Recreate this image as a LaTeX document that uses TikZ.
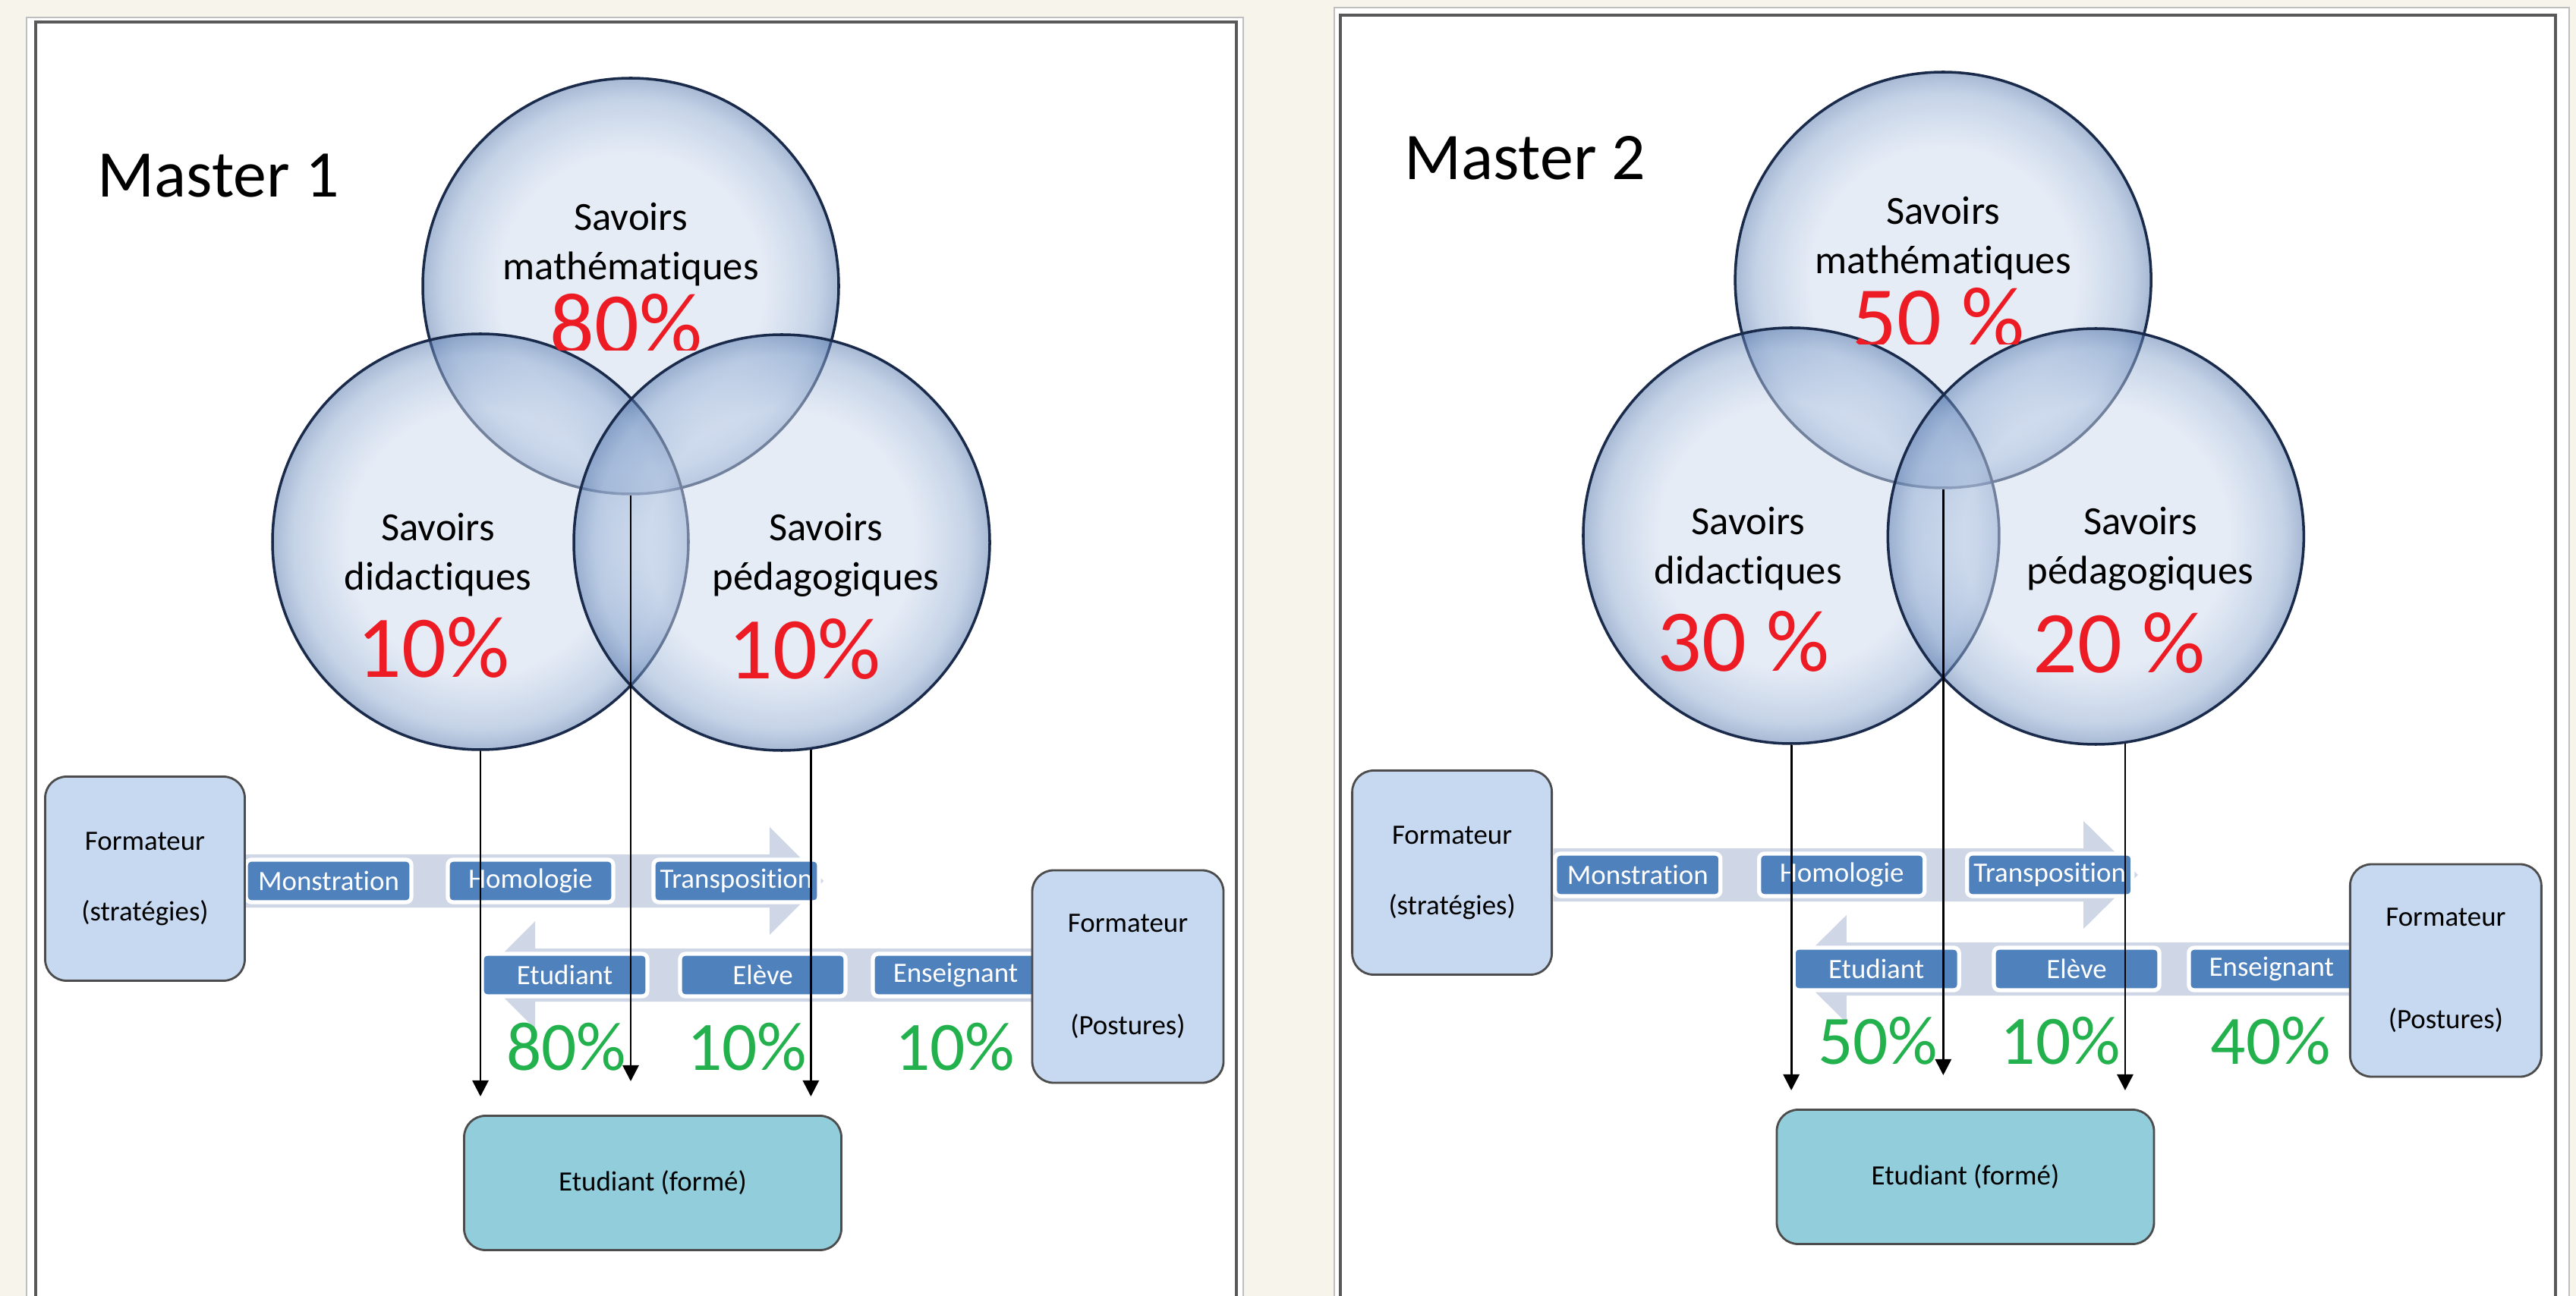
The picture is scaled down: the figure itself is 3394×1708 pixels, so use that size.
\documentclass[tikz,border=0pt]{standalone}
\usepackage{fontspec}
\setmainfont{Carlito}[Ligatures=NoCommon]
\usetikzlibrary{arrows.meta}

\definecolor{cream}{RGB}{247,244,235}
\definecolor{bubin}{RGB}{205,218,238}
\definecolor{bubmid}{RGB}{140,168,208}
\definecolor{bubout}{RGB}{80,115,170}
\definecolor{bubline}{RGB}{25,42,75}
\definecolor{stageblue}{RGB}{79,129,189}
\definecolor{bandgray}{RGB}{207,215,231}
\definecolor{rolefill}{RGB}{198,217,241}
\definecolor{studfill}{RGB}{146,205,220}
\definecolor{pcred}{RGB}{237,28,36}
\definecolor{pcgreen}{RGB}{34,177,76}
\pgfdeclareradialshading{bubble}{\pgfpoint{0bp}{0bp}}{color(0bp)=(bubin); color(16bp)=(bubin); color(22.5bp)=(bubmid); color(25bp)=(bubout); color(50bp)=(bubout)}

\begin{document}
\begin{tikzpicture}[x=0.1mm, y=-0.1mm,
  venn/.style={circle, minimum size=54.8mm, inner sep=0pt, shading=bubble, fill opacity=0.5, draw=bubline, line width=1pt},
  lab/.style={align=center, font=\fontsize{15}{18.5}\selectfont},
  redpc/.style={text=pcred, font=\fontsize{33}{36}\selectfont, inner sep=0pt},
  greenpc/.style={text=pcgreen, font=\fontsize{26}{30}\selectfont, inner sep=0pt},
  title/.style={font=\fontsize{25}{30}\selectfont, inner sep=0pt},
  stage/.style={draw=white, line width=1.5pt, fill=stageblue, rounded corners=2pt, text=white, font=\fontsize{10.5}{12}\selectfont, minimum width=21.8mm, minimum height=5.6mm, inner sep=0pt},
  role/.style={draw=black!70, line width=0.8pt, fill=rolefill, rounded corners=8pt, align=center, font=\fontsize{10.5}{12.5}\selectfont, inner sep=0pt},
  band/.style={fill=bandgray},
  arr/.style={-{Triangle[length=6pt,width=6pt]}, line width=0.8pt},
  framein/.style={draw=black!65, line width=1.2pt},
  frameout/.style={draw=black!25, line width=0.6pt}
]
\useasboundingbox (0,0) rectangle (3394,1708);
\fill[cream] (0,0) rectangle (3394,1708);

% the two sheets
\fill[white] (35,23) rectangle (1638,1708);
\draw[frameout] (35,1708) |- (1638,23) -- (1638,1708);
\draw[framein] (47,1708) |- (1629,29) -- (1629,1708);
\fill[white] (1758,10) rectangle (3385,1708);
\draw[frameout] (1758,1708) |- (3385,10) -- (3385,1708);
\draw[framein] (1766,1708) |- (3367,20) -- (3367,1708);

\foreach \p/\dx/\dy/\sx/\ty/\rtop/\rleft/\rright/\gA/\gB/\gC in
  {1/0/0/1/260/80\%/10\%/10\%/80\%/10\%/10\%,
   2/1720/-8/1.011/245/50 \%/30 \%/20 \%/50\%/10\%/40\%}{
\begin{scope}[shift={(\dx,\dy)}, xscale=\sx]
\node[title, anchor=base west] (title\p) at (128,\ty) {Master \p};

% Venn
\node[venn] (math\p) at (831,377) {};
\node[venn] (did\p) at (633,714) {};
\node[venn] (ped\p) at (1030,715) {};
\node[lab] (mathlab\p) at (831,322) {Savoirs\\mathématiques};
\node[lab] (didlab\p) at (577,731) {Savoirs\\didactiques};
\node[lab] (pedlab\p) at (1088,731) {Savoirs\\pédagogiques};
\begin{scope}
  \clip (600,300) rectangle (1100,462);
  \node[redpc] (mathpc\p) at (825,427) {\rtop};
\end{scope}
\node[redpc] (didpc\p) at (571,853) {\rleft};
\node[redpc] (pedpc\p) at (1060,855) {\rright};

% bands
\fill[band] (323,1126) -- (1014,1126) -- (1014,1090) -- (1085,1161) -- (1014,1232) -- (1014,1196) -- (323,1196) -- cycle;
\fill[band] (1360,1250) -- (705,1250) -- (705,1214) -- (634,1285) -- (705,1356) -- (705,1320) -- (1360,1320) -- cycle;

\node[stage] (mon\p) at (433,1161) {Monstration};
\node[stage] (hom\p) at (699,1161) {Homologie};
\node[stage] (tra\p) at (970,1161) {Transposition};
\node[stage] (etu\p) at (744,1285) {Etudiant};
\node[stage] (ele\p) at (1005,1285) {Elève};
\node[stage] (ens\p) at (1259,1285) {Enseignant};

\node[role, minimum width=26.3mm, minimum height=26.9mm] (strat\p) at (191,1158) {Formateur\\[14pt](stratégies)};
\node[role, minimum width=25.2mm, minimum height=28mm] (post\p) at (1486,1287) {Formateur\\[26pt](Postures)};
\node[role, fill=studfill, minimum width=49.7mm, minimum height=17.7mm] (form\p) at (860,1559) {Etudiant (formé)};

\node[greenpc] (gA\p) at (746,1380) {\gA};
\node[greenpc] (gB\p) at (984,1380) {\gB};
\node[greenpc] (gC\p) at (1258,1380) {\gC};

% arrows
\coordinate (tip\p) at (0,1445);
\coordinate (tipm\p) at (0,1425);
\draw[arr] (did\p.south) -- (did\p.south |- tip\p);
\draw[arr] (math\p.south) -- (math\p.south |- tipm\p);
\draw[arr] (ped\p.-82) -- (ped\p.-82 |- tip\p);
\end{scope}
}
\end{tikzpicture}
\end{document}
